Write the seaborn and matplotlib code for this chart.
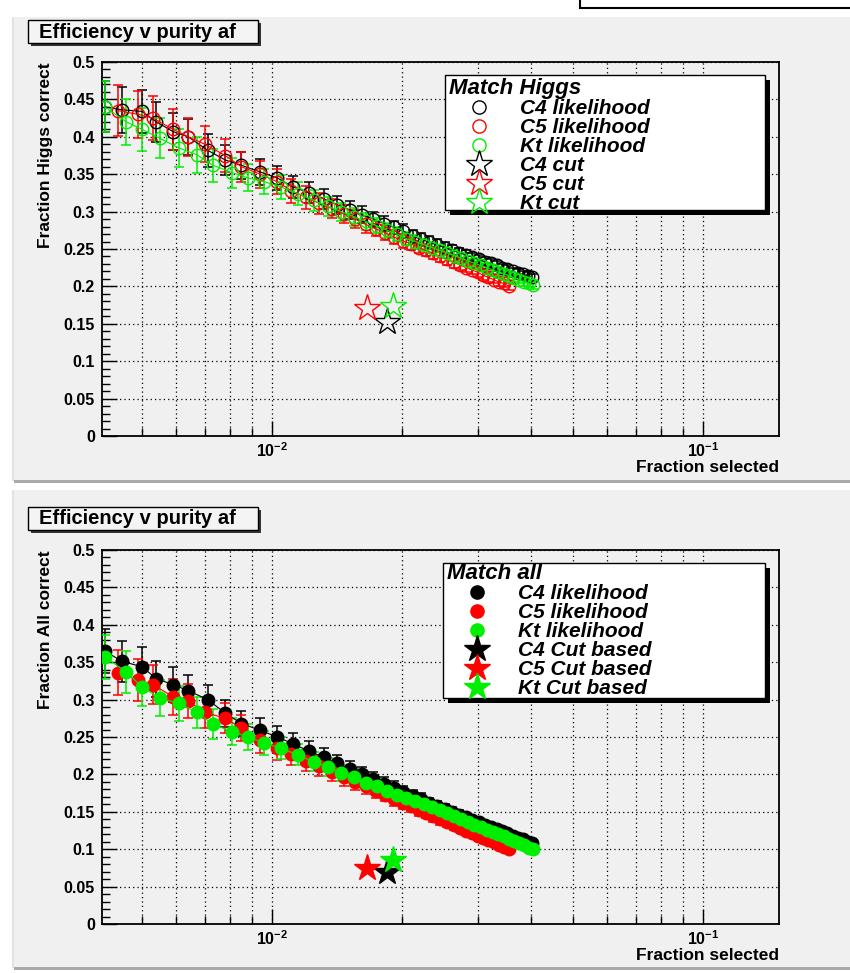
import numpy as np
import pandas as pd
import matplotlib
matplotlib.use("Agg")
import matplotlib.pyplot as plt
import seaborn as sns
from matplotlib.patches import Rectangle
from matplotlib.lines import Line2D
from matplotlib import font_manager as fm
from matplotlib.ticker import FixedLocator, LogLocator, NullFormatter, FixedFormatter

# ---------------- data ----------------
algorithms = ["C4", "C5", "Kt"]
colors = ["#000000", "#ff0000", "#00ee00"]

x_c4 = [0.0041, 0.0045, 0.0050, 0.0054, 0.0059, 0.0064, 0.0071, 0.0078, 0.0085, 0.0094,
        0.0103, 0.0112, 0.0122, 0.0132, 0.0142, 0.0152, 0.0162, 0.0172, 0.0182, 0.0192,
        0.0202, 0.0212, 0.0222, 0.0232, 0.0242, 0.0252, 0.0262, 0.0272, 0.0282, 0.0292,
        0.0302, 0.0312, 0.0322, 0.0332, 0.0342, 0.0352, 0.0362, 0.0372, 0.0382, 0.0392, 0.0401]
x_c5 = [0.0044, 0.0049, 0.0053, 0.0059, 0.0064, 0.0070, 0.0078, 0.0085, 0.0094, 0.0103,
        0.0111, 0.0120, 0.0129, 0.0138, 0.0147, 0.0156, 0.0165, 0.0174, 0.0183, 0.0192,
        0.0201, 0.0210, 0.0219, 0.0228, 0.0237, 0.0246, 0.0255, 0.0264, 0.0273, 0.0282,
        0.0291, 0.0300, 0.0309, 0.0318, 0.0327, 0.0336, 0.0345, 0.0355]
x_kt = [0.0041, 0.0046, 0.0050, 0.0055, 0.0061, 0.0067, 0.0073, 0.0081, 0.0088, 0.0096,
        0.0105, 0.0115, 0.0125, 0.0135, 0.0145, 0.0155, 0.0165, 0.0175, 0.0185, 0.0195,
        0.0205, 0.0215, 0.0225, 0.0235, 0.0245, 0.0255, 0.0265, 0.0275, 0.0285, 0.0295,
        0.0305, 0.0315, 0.0325, 0.0335, 0.0345, 0.0355, 0.0365, 0.0375, 0.0385, 0.0395, 0.0403]

higgs_c4 = [0.440, 0.436, 0.434, 0.420, 0.407, 0.400, 0.382, 0.369, 0.362, 0.353,
            0.345, 0.333, 0.325, 0.317, 0.309, 0.302, 0.296, 0.290, 0.284, 0.279,
            0.274, 0.267, 0.263, 0.259, 0.255, 0.252, 0.249, 0.245, 0.242, 0.239,
            0.236, 0.233, 0.231, 0.228, 0.225, 0.223, 0.220, 0.218, 0.216, 0.214, 0.212]
higgs_c5 = [0.435, 0.430, 0.425, 0.410, 0.400, 0.390, 0.375, 0.360, 0.350, 0.340,
            0.328, 0.319, 0.311, 0.304, 0.297, 0.290, 0.283, 0.277, 0.272, 0.266,
            0.261, 0.257, 0.252, 0.248, 0.244, 0.240, 0.236, 0.232, 0.229, 0.225,
            0.222, 0.219, 0.215, 0.212, 0.209, 0.206, 0.204, 0.200]
higgs_kt = [0.440, 0.420, 0.410, 0.398, 0.385, 0.376, 0.362, 0.352, 0.345, 0.340,
            0.333, 0.324, 0.315, 0.307, 0.300, 0.293, 0.287, 0.281, 0.275, 0.270,
            0.264, 0.260, 0.256, 0.252, 0.248, 0.245, 0.241, 0.238, 0.234, 0.231,
            0.228, 0.225, 0.222, 0.219, 0.217, 0.214, 0.211, 0.209, 0.206, 0.204, 0.202]

all_c4 = [0.365, 0.351, 0.344, 0.328, 0.320, 0.312, 0.300, 0.282, 0.268, 0.259,
          0.250, 0.241, 0.231, 0.223, 0.215, 0.207, 0.200, 0.194, 0.187, 0.182,
          0.176, 0.171, 0.167, 0.162, 0.158, 0.154, 0.150, 0.146, 0.143, 0.139,
          0.136, 0.133, 0.130, 0.127, 0.124, 0.121, 0.118, 0.115, 0.113, 0.110, 0.108]
all_c5 = [0.336, 0.326, 0.320, 0.304, 0.298, 0.283, 0.275, 0.262, 0.246, 0.235,
          0.227, 0.218, 0.211, 0.203, 0.196, 0.190, 0.184, 0.178, 0.173, 0.167,
          0.162, 0.158, 0.153, 0.149, 0.144, 0.140, 0.136, 0.132, 0.129, 0.125,
          0.122, 0.118, 0.115, 0.112, 0.109, 0.106, 0.103, 0.100]
all_kt = [0.357, 0.337, 0.317, 0.302, 0.295, 0.283, 0.267, 0.257, 0.250, 0.242,
          0.235, 0.226, 0.217, 0.210, 0.202, 0.196, 0.189, 0.184, 0.178, 0.173,
          0.168, 0.164, 0.160, 0.156, 0.152, 0.148, 0.144, 0.140, 0.137, 0.133,
          0.130, 0.126, 0.123, 0.120, 0.117, 0.114, 0.111, 0.108, 0.105, 0.102, 0.100]

err_higgs = [0.034, 0.031, 0.029, 0.027, 0.025, 0.024, 0.022, 0.020, 0.018, 0.017,
             0.016, 0.015, 0.014, 0.013, 0.012, 0.012, 0.011, 0.010, 0.010, 0.009,
             0.009, 0.009, 0.008, 0.008, 0.008, 0.007, 0.007, 0.007, 0.007, 0.006,
             0.006, 0.006, 0.006, 0.006, 0.005, 0.005, 0.005, 0.005, 0.005, 0.005, 0.005]
err_all = [0.030, 0.028, 0.026, 0.024, 0.023, 0.021, 0.020, 0.018, 0.017, 0.016,
           0.015, 0.014, 0.013, 0.012, 0.011, 0.011, 0.010, 0.009, 0.009, 0.009,
           0.008, 0.008, 0.008, 0.007, 0.007, 0.007, 0.006, 0.006, 0.006, 0.006,
           0.005, 0.005, 0.005, 0.005, 0.005, 0.005, 0.004, 0.004, 0.004, 0.004, 0.004]

cut_x = [0.0185, 0.0166, 0.0191]
cut_higgs = [0.153, 0.171, 0.174]
cut_all = [0.070, 0.0745, 0.0856]

y_ticks = [0.0, 0.05, 0.1, 0.15, 0.2, 0.25, 0.3, 0.35, 0.4, 0.45, 0.5]
y_tick_labels = ["0", "0.05", "0.1", "0.15", "0.2", "0.25", "0.3", "0.35", "0.4", "0.45", "0.5"]
x_ticks = [0.01, 0.1]
x_tick_labels = [r"$\mathbf{10^{-2}}$", r"$\mathbf{10^{-1}}$"]

panel_title = "Efficiency v purity af"
x_label = "Fraction selected"
y_labels = ["Fraction Higgs correct", "Fraction All correct"]
legend_headers = ["Match Higgs", "Match all"]
labels_top = ["C4 likelihood", "C5 likelihood", "Kt likelihood", "C4 cut", "C5 cut", "Kt cut"]
labels_bot = ["C4 likelihood", "C5 likelihood", "Kt likelihood", "C4 Cut based", "C5 Cut based", "Kt Cut based"]

# ---------------- fonts ----------------
names = {f.name for f in fm.fontManager.ttflist}
base = "Liberation Sans" if "Liberation Sans" in names else "DejaVu Sans"
narrow = "Liberation Sans Narrow" if "Liberation Sans Narrow" in names else base
plt.rcParams["font.family"] = [base, "DejaVu Sans"]
plt.rcParams["mathtext.fontset"] = "custom"
plt.rcParams["mathtext.rm"] = base
plt.rcParams["mathtext.bf"] = base + ":bold"

W, H = 850, 973
fig = plt.figure(figsize=(W / 100, H / 100), dpi=100)
fig.patch.set_facecolor("white")


def fx(px):
    return px / W


def fy(py):
    return 1 - py / H


def frect(x0, y0, x1, y1, **kw):
    # pixel box (top-left origin) -> figure rectangle
    r = Rectangle((fx(x0), fy(y1)), (x1 - x0) / W, (y1 - y0) / H,
                  transform=fig.transFigure, **kw)
    fig.add_artist(r)
    return r


PANEL = "#f0f0f0"
# top remnant box
frect(580, -5, 860, 8, facecolor="white", edgecolor="black", linewidth=1.5, zorder=-5)
# panels
for (top, bot) in [(17, 481), (490, 968)]:
    frect(14, top, 850, bot, facecolor=PANEL, edgecolor="none", zorder=-10)
    frect(14, bot - 1, 850, bot + 2, facecolor="#a9a9a9", edgecolor="none", zorder=-9)
    frect(12, top, 14, bot, facecolor="#e2e2e2", edgecolor="none", zorder=-9)

# title boxes
for top in [20, 507]:
    frect(31, top + 3, 261, top + 26, facecolor="#333333", edgecolor="none", zorder=1)
    frect(28, top, 258, top + 23, facecolor="#f4f4f4", edgecolor="black", linewidth=1, zorder=2)
    fig.text(fx(39), fy(top + 12), panel_title, fontsize=14.5, fontweight="bold",
             ha="left", va="center", zorder=3)


def make_axes(top_px):
    ax = fig.add_axes([fx(102), fy(top_px + 374), 677 / W, 374 / H])
    ax.set_facecolor(PANEL)
    ax.set_xscale("log")
    ax.set_xlim(0.00404, 0.150)
    ax.set_ylim(0, 0.5)
    ax.yaxis.set_major_locator(FixedLocator(y_ticks))
    ax.yaxis.set_major_formatter(FixedFormatter(y_tick_labels))
    ax.yaxis.set_minor_locator(FixedLocator([i / 100 for i in range(51)]))
    ax.xaxis.set_major_locator(FixedLocator(x_ticks))
    ax.xaxis.set_major_formatter(FixedFormatter(x_tick_labels))
    ax.xaxis.set_minor_locator(LogLocator(base=10, subs=(2, 3, 4, 5, 6, 7, 8, 9), numticks=20))
    ax.xaxis.set_minor_formatter(NullFormatter())
    ax.tick_params(which="major", direction="in", length=11, width=1, left=True, bottom=True,
                   top=False, right=False, labelsize=11.5, pad=5)
    ax.tick_params(which="minor", direction="in", length=6, width=1, left=True, bottom=True,
                   top=False, right=False)
    ax.tick_params(axis="x", which="major", pad=4)
    for lab in ax.get_yticklabels():
        lab.set_fontweight("bold")
    ax.grid(True, which="major", axis="y", color="black", linestyle=(0, (1, 2.5)), linewidth=0.9)
    ax.grid(True, which="both", axis="x", color="black", linestyle=(0, (1, 2.5)), linewidth=0.9)
    ax.set_axisbelow(True)
    for s in ax.spines.values():
        s.set_linewidth(1.3)
        s.set_color("black")
    return ax


def draw_panel(ax, xs_list, ys_list, errs, cuts_y, filled, header, labels, ylab,
               leg_left_px, leg_h_px, leg_shift_px):
    rows = []
    for alg, xs, ys in zip(algorithms, xs_list, ys_list):
        for xv, yv, ev in zip(xs, ys, errs[:len(xs)]):
            rows.append({"alg": alg, "frac": xv, "eff": yv, "err": ev})
    df = pd.DataFrame(rows)
    for alg, col in zip(algorithms, colors):
        d = df[df["alg"] == alg]
        ax.errorbar(d["frac"], d["eff"], yerr=d["err"], fmt="none", ecolor=col,
                    elinewidth=1.1, capsize=3.5, capthick=1.1, zorder=3)
        sns.lineplot(data=d, x="frac", y="eff", ax=ax, color=col, estimator=None, sort=False,
                     linewidth=0.8, marker="o", markersize=9,
                     markerfacecolor=(col if filled else "none"), markeredgecolor=col,
                     markeredgewidth=1.0, legend=False, zorder=4)
    cdf = pd.DataFrame({"alg": algorithms, "frac": cut_x, "eff": cuts_y})
    for alg, col in zip(algorithms, colors):
        d = cdf[cdf["alg"] == alg]
        sns.lineplot(data=d, x="frac", y="eff", ax=ax, color=col, estimator=None, sort=False,
                     linewidth=0, marker="*", markersize=20,
                     markerfacecolor=(col if filled else "none"), markeredgecolor=col,
                     markeredgewidth=1.0, legend=False, zorder=5)
    ax.set_xlabel(x_label, fontsize=12.5, fontweight="bold")
    ax.xaxis.set_label_coords(1.0, -32 / 374)
    ax.xaxis.label.set_ha("right")
    ax.xaxis.label.set_va("center")
    ax.set_ylabel(ylab, fontsize=12.5, fontweight="bold")
    ax.yaxis.set_label_coords(-56 / 677, 1.0)
    ax.yaxis.label.set_ha("right")
    ax.yaxis.label.set_va("center")

    # legend frame with ROOT-like shadow
    lx0 = (leg_left_px - 102) / 677
    lx1 = (765 - 102) / 677
    ly1 = (374 - 13) / 374
    ly0 = ly1 - leg_h_px / 374
    ax.add_patch(Rectangle((lx0 + 5 / 677, ly0 - 5 / 374), lx1 - lx0, ly1 - ly0,
                           transform=ax.transAxes, facecolor="black", edgecolor="none", zorder=8))
    ax.add_patch(Rectangle((lx0, ly0), lx1 - lx0, ly1 - ly0, transform=ax.transAxes,
                           facecolor="white", edgecolor="black", linewidth=1.0, zorder=9))
    handles = []
    for col in colors:
        handles.append(Line2D([], [], linestyle="none", marker="o", markersize=9.5,
                              markerfacecolor=(col if filled else "none"), markeredgecolor=col,
                              markeredgewidth=1.0))
    for col in colors:
        handles.append(Line2D([], [], linestyle="none", marker="*", markersize=20,
                              markerfacecolor=(col if filled else "none"), markeredgecolor=col,
                              markeredgewidth=1.0))
    prop = fm.FontProperties(family=[narrow, base], style="italic", weight="bold", size=15)
    leg = ax.legend(handles, labels, loc="upper left",
                    bbox_to_anchor=(lx0 + 4 / 677, ly1 - leg_shift_px / 374),
                    bbox_transform=ax.transAxes,
                    frameon=False, title=header, alignment="left", borderpad=0, borderaxespad=0,
                    handlelength=2.9, handletextpad=0.5, labelspacing=0.0, prop=prop,
                    title_fontproperties=fm.FontProperties(family=[narrow, base], style="italic",
                                                           weight="bold", size=16))
    leg._legend_box.sep = 0
    leg.set_zorder(10)


ax1 = make_axes(62)
draw_panel(ax1, [x_c4, x_c5, x_kt], [higgs_c4, higgs_c5, higgs_kt], err_higgs, cut_higgs,
           False, legend_headers[0], labels_top, y_labels[0], 445, 135, 3)
ax2 = make_axes(550)
draw_panel(ax2, [x_c4, x_c5, x_kt], [all_c4, all_c5, all_kt], err_all, cut_all,
           True, legend_headers[1], labels_bot, y_labels[1], 443, 135, 0)

fig.savefig("out.png", dpi=100, facecolor="white")
